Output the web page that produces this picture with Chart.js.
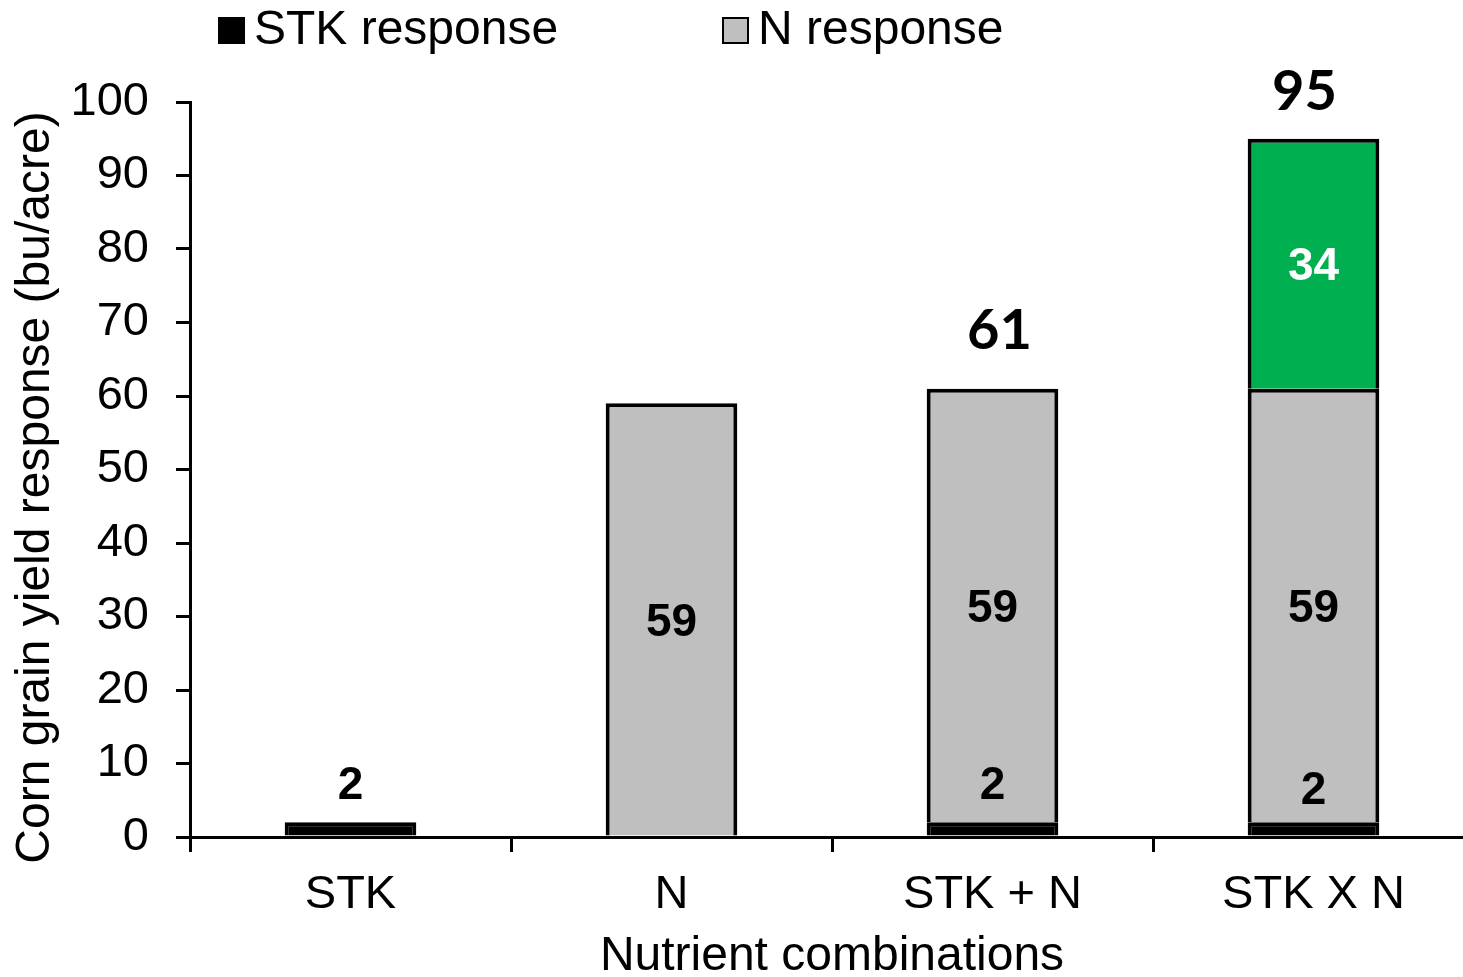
<!DOCTYPE html>
<html>
<head>
<meta charset="utf-8">
<script src="https://cdn.jsdelivr.net/npm/chart.js@4/dist/chart.umd.min.js"></script>
<style>
  html, body { margin: 0; padding: 0; background: #fff; overflow: hidden; }
  canvas { display: block; }
</style>
</head>
<body>
<canvas id="chart" width="1480" height="988"></canvas>
<script>
// Corn yield response to soil-test K (STK), N and their combination.
const categories = ["STK", "N", "STK + N", "STK X N"];
const stkResponse = [2, null, 2, 2];
const nResponse = [null, 59, 59, 59];
const interactionResponse = [null, null, null, 34];
const yTicks = [0, 10, 20, 30, 40, 50, 60, 70, 80, 90, 100];
const yTitle = "Corn grain yield response (bu/acre)";

const SANS = '"Liberation Sans", Arial, sans-serif';
const BLACK = "#000000";
const GRAY = "#BFBFBF";
const GREEN = "#00B050";

// Segment values (black above its bar, others centred) plus stack totals.
const valueLabels = {
  id: "valueLabels",
  afterDatasetsDraw(chart, args, opts) {
    const { ctx } = chart;
    ctx.save();
    ctx.textAlign = "center";
    ctx.textBaseline = "middle";
    ctx.font = `bold 46px ${SANS}`;
    chart.data.datasets.forEach((ds, di) => {
      chart.getDatasetMeta(di).data.forEach((bar, i) => {
        const v = ds.data[i];
        if (v == null) return;
        let y = (bar.y + bar.base) / 2 + 4;
        if (di === 0) y = bar.y - opts.stkLift[i];
        ctx.fillStyle = di === 2 ? "#ffffff" : BLACK;
        ctx.fillText(String(v), bar.x, y);
      });
    });

    ctx.font = `bold 56px Lato, ${SANS}`;
    ctx.fillStyle = BLACK;
    categories.forEach((c, i) => {
      const parts = chart.data.datasets.map((ds) => ds.data[i]).filter((v) => v != null);
      if (parts.length < 2) return;
      const total = parts.reduce((a, b) => a + b, 0);
      let top = Infinity, x = 0;
      chart.data.datasets.forEach((ds, di) => {
        const bar = chart.getDatasetMeta(di).data[i];
        if (ds.data[i] != null && bar.y < top) { top = bar.y; x = bar.x; }
      });
      const n = opts.totalNudge[i];
      ctx.fillText(String(total), x + n.dx, top - n.lift);
    });
    ctx.restore();
  },
};

// Legend row along the top (two main responses) and the rotated y title.
const frameText = {
  id: "frameText",
  afterDraw(chart, args, opts) {
    const { ctx, chartArea } = chart;
    ctx.save();
    ctx.font = `48px ${SANS}`;
    ctx.textBaseline = "middle";
    ctx.textAlign = "left";
    opts.items.forEach(({ index, x }) => {
      const ds = chart.data.datasets[index];
      ctx.fillStyle = ds.backgroundColor;
      ctx.fillRect(x, 17, 27, 27);
      ctx.lineWidth = 2;
      ctx.strokeStyle = BLACK;
      ctx.strokeRect(x + 1, 18, 25, 25);
      ctx.fillStyle = BLACK;
      ctx.fillText(ds.label, x + 36, 31);
    });

    ctx.translate(opts.yTitleX, (chartArea.top + chartArea.bottom) / 2 + opts.yTitleShift);
    ctx.rotate(-Math.PI / 2);
    ctx.textAlign = "center";
    ctx.fillText(yTitle, 0, 0);
    ctx.restore();
  },
};

const bar = (label, data, color) => ({
  label,
  data,
  backgroundColor: color,
  borderColor: BLACK,
  borderWidth: 4,
  borderSkipped: "bottom",
  categoryPercentage: 1,
  barPercentage: 0.41,
});

new Chart(document.getElementById("chart"), {
  type: "bar",
  data: {
    labels: categories,
    datasets: [
      bar("STK response", stkResponse, BLACK),
      bar("N response", nResponse, GRAY),
      bar("STK X N interaction", interactionResponse, GREEN),
    ],
  },
  plugins: [valueLabels, frameText],
  options: {
    responsive: false,
    animation: false,
    layout: { padding: { top: 102, right: 6, left: 0, bottom: 0 } },
    scales: {
      x: {
        stacked: true,
        afterFit: (s) => { s.height = 151; },
        grid: { offset: true, drawOnChartArea: false, color: BLACK, lineWidth: 3, tickLength: 15 },
        border: { color: BLACK, width: 3 },
        ticks: { color: BLACK, font: { family: SANS, size: 47 }, padding: 15 },
        title: {
          display: true,
          text: "Nutrient combinations",
          color: BLACK,
          font: { family: SANS, size: 48 },
          padding: { top: 0, bottom: 2 },
        },
      },
      y: {
        stacked: true,
        min: 0,
        max: 100,
        afterFit: (s) => { s.width = 190; },
        afterBuildTicks: (s) => { s.ticks = yTicks.map((v) => ({ value: v })); },
        grid: { drawOnChartArea: false, color: BLACK, lineWidth: 3, tickLength: 14 },
        border: { color: BLACK, width: 3 },
        ticks: { color: BLACK, font: { family: SANS, size: 47 }, padding: 27 },
      },
    },
    plugins: {
      legend: { display: false },
      tooltip: { enabled: false },
      valueLabels: {
        stkLift: [36, 0, 36, 31],
        totalNudge: [null, null, { dx: 7, lift: 58 }, { dx: -9, lift: 47 }],
      },
      frameText: {
        items: [{ index: 0, x: 218 }, { index: 1, x: 722 }],
        yTitleX: 36,
        yTitleShift: 18,
      },
    },
  },
});
</script>
</body>
</html>
